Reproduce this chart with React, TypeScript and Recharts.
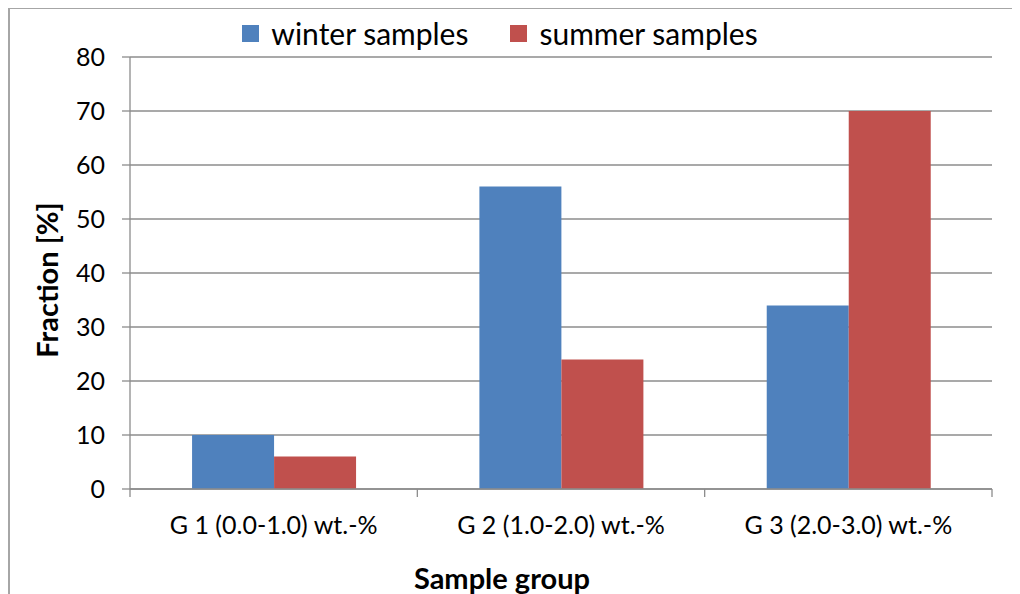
import React from 'react';
import { ComposedChart, Bar, Line, XAxis, YAxis, CartesianGrid, Legend, Label } from 'recharts';

const categories = ['G 1 (0.0-1.0) wt.-%', 'G 2 (1.0-2.0) wt.-%', 'G 3 (2.0-3.0) wt.-%'];
const winterSamples = [10, 56, 34];
const summerSamples = [6, 24, 70];
const seriesNames = ['winter samples', 'summer samples'];
const yTicks = [0, 10, 20, 30, 40, 50, 60, 70, 80];
const boundaryTicks = [0, 1, 2, 3];

const data = categories.map((c, i) => ({ name: c, pos: i + 0.5, winter: winterSamples[i], summer: summerSamples[i] }));

const FONT = 'Lato, "Open Sans", sans-serif';
const AXIS_COLOR = '#8c8c8c';

const LegendContent = (props: any) => {
  const payload = (props.payload || [])
    .filter((p: any) => seriesNames.includes(p.value))
    .sort((a: any, b: any) => seriesNames.indexOf(a.value) - seriesNames.indexOf(b.value));
  return (
    <div style={{ display: 'flex', justifyContent: 'center', alignItems: 'center', fontFamily: FONT, fontSize: 30, color: '#000', lineHeight: '32px' }}>
      {payload.map((p: any, i: number) => (
        <div key={i} style={{ display: 'flex', alignItems: 'center', marginRight: i === 0 ? 42 : 0 }}>
          <span style={{ display: 'inline-block', width: 17, height: 17, background: p.color, marginRight: 12 }} />
          <span>{p.value}</span>
        </div>
      ))}
    </div>
  );
};

const EmptyTick = () => <g />;

export default function App() {
  return (
    <div style={{ position: 'relative', width: 1012, height: 586, overflow: 'hidden', background: '#fff' }}>
      <div style={{ position: 'absolute', left: 0, top: -1, width: 1200, height: 800, border: '2px solid #a6a6a6', boxSizing: 'border-box' }} />
      <ComposedChart
        width={1012}
        height={586}
        data={data}
        margin={{ top: 49, right: 28, left: 22, bottom: 45 }}
        barCategoryGap="21.6%"
        barGap={0}
      >
        <CartesianGrid vertical={false} stroke={AXIS_COLOR} strokeWidth={1.3} xAxisId="z" />
        <XAxis
          xAxisId="z"
          dataKey="name"
          axisLine={false}
          tickLine={false}
          tickSize={0}
          tickMargin={26}
          height={59}
          interval={0}
          tick={{ fill: '#000', fontFamily: FONT, fontSize: 25 }}
        >
          <Label
            content={() => (
              <text x={494} y={569} textAnchor="middle" dominantBaseline="central" fontFamily={FONT} fontWeight={700} fontSize={29} fill="#000">
                Sample group
              </text>
            )}
          />
        </XAxis>
        <XAxis
          xAxisId="a"
          type="number"
          dataKey="pos"
          domain={[0, 3]}
          allowDataOverflow
          ticks={boundaryTicks}
          interval={0}
          tick={EmptyTick}
          tickSize={8}
          height={1}
          stroke={AXIS_COLOR}
          axisLine={{ stroke: AXIS_COLOR, strokeWidth: 1.3 }}
          tickLine={{ stroke: AXIS_COLOR, strokeWidth: 1.3 }}
        />
        <YAxis
          domain={[0, 80]}
          ticks={yTicks}
          interval={0}
          width={100}
          tickSize={8}
          tickMargin={17}
          axisLine={{ stroke: AXIS_COLOR, strokeWidth: 1.3 }}
          tickLine={{ stroke: AXIS_COLOR, strokeWidth: 1.3 }}
          tick={{ fill: '#000', fontFamily: FONT, fontSize: 25 }}
        >
          <Label
            content={() => (
              <text x={38} y={272} transform="rotate(-90 38 272)" textAnchor="middle" dominantBaseline="central" fontFamily={FONT} fontWeight={700} fontSize={29} fill="#000">
                Fraction [%]
              </text>
            )}
          />
        </YAxis>
        <Legend
          verticalAlign="middle"
          layout="horizontal"
          content={<LegendContent />}
          wrapperStyle={{ top: 9, left: -14, width: 1012, height: 32 }}
        />
        <Bar xAxisId="z" dataKey="winter" name="winter samples" fill="#4F81BD" isAnimationActive={false} />
        <Bar xAxisId="z" dataKey="summer" name="summer samples" fill="#C0504D" isAnimationActive={false} />
        <Line
          xAxisId="a"
          dataKey="winter"
          name="axis helper"
          stroke="none"
          strokeOpacity={0}
          dot={false}
          activeDot={false}
          legendType="none"
          isAnimationActive={false}
        />
      </ComposedChart>
    </div>
  );
}
